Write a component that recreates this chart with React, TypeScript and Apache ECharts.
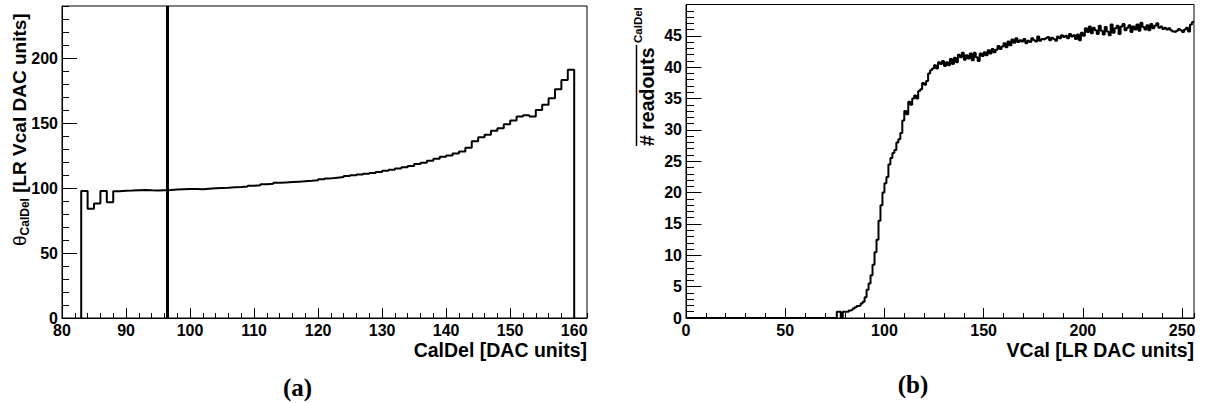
import React, { useEffect, useRef } from "react";
import * as echarts from "echarts";

// ---------- Panel (a): theta_CalDel vs CalDel ----------
const calDelRange = [80, 162];
const thetaRange = [0, 240];
const calDelFirstBin = 83;
// one value per CalDel bin, bins 83..159
const thetaValues = [
  97.7, 84, 88, 97.7, 89, 97.5, 97.8, 98, 98.3, 98.5,
  98.2, 98.0, 98.3, 98.5, 98.8, 99, 99.2, 99.3, 99.0, 99.5,
  99.8, 100, 100.2, 100.5, 100.8, 101.2, 101.8, 102.2, 102.8, 103.3,
  104, 104.3, 104.6, 104.9, 105.2, 105.5, 106, 106.8, 107.4, 107.9,
  108.4, 109.2, 109.8, 110.4, 111, 111.6, 112.4, 113.2, 114, 115,
  116, 117, 118.5, 119.5, 121, 122.5, 124, 125, 126.5, 128,
  131, 136, 139, 141, 144, 146, 149, 152, 155, 156,
  155, 160, 164, 169, 176, 183, 191,
];
const calDelMarker = 96.4;

// ---------- Panel (b): readouts vs VCal ----------
const vcalRange = [0, 256];
const readoutRange = [0, 50];
const vcalFirstBin = 0;
// one value per VCal bin, bins 0..255
const readoutValues = [
  0, 0, 0, 0, 0, 0, 0, 0, 0, 0,
  0, 0, 0, 0, 0, 0, 0, 0, 0, 0,
  0, 0, 0, 0, 0, 0, 0, 0, 0, 0,
  0, 0, 0, 0, 0, 0, 0, 0, 0, 0,
  0, 0, 0, 0, 0, 0, 0, 0, 0, 0,
  0, 0, 0, 0, 0, 0, 0, 0, 0, 0,
  0, 0, 0, 0, 0, 0, 0, 0, 0, 0,
  0, 0, 0, 0, 0, 0, 1.0, 1.0, 0, 1.0,
  1.0, 1.0, 1.2, 1.3, 1.5, 1.7, 1.9, 2.0, 2.3, 2.6,
  3.3, 4.5, 5.5, 6.8, 8.5, 10.5, 12.5, 15.5, 18.0, 20.0,
  21.5, 22.5, 24.5, 25.5, 26.3, 26.8, 28.0, 28.5, 29.5, 31.5,
  33.0, 32.5, 34.5, 34.0, 35.0, 35.5, 35.0, 36.2, 36.5, 37.5,
  37.2, 37.8, 39.0, 39.5, 39.8, 40.3, 39.8, 40.8, 40.5, 41.0,
  40.2, 40.8, 40.3, 41.3, 40.5, 41.5, 40.8, 42.0, 41.6, 42.3,
  41.2, 41.9, 41.4, 42.2, 41.1, 42.3, 41.6, 41.0, 42.2, 41.8,
  42.4, 41.9, 42.7, 42.2, 42.9, 42.4, 42.8, 43.4, 42.9, 43.3,
  43.8, 43.2, 44.1, 43.5, 44.4, 43.9, 44.6, 44.0, 44.3, 44.1,
  44.5, 43.8, 44.2, 44.0, 44.6, 44.3, 44.1, 44.9, 44.2, 44.5,
  44.4, 44.6, 44.8, 44.3, 44.7, 44.5, 44.2, 44.9, 44.6, 45.1,
  44.8, 45.0, 44.6, 45.3, 44.9, 45.1, 44.5, 45.2, 44.3, 45.5,
  45.0, 46.2, 45.6, 46.5, 45.4, 46.3, 45.9, 45.3, 46.6, 45.8,
  45.2, 46.4, 45.7, 45.1, 46.8, 45.5, 46.2, 46.6, 45.3, 46.5,
  46.9, 45.9, 46.3, 46.7, 45.6, 46.5, 46.0, 46.8, 45.8, 47.1,
  46.4, 46.0, 46.7, 45.9, 46.9, 46.2, 46.6, 47.0, 46.3, 46.5,
  46.1, 46.3, 46.0, 46.2, 45.9, 45.7, 45.6, 45.8, 46.1, 45.9,
  45.6, 46.0, 46.3, 45.7, 46.8, 47.2,
];

// tick spacing
const leftXMajor = 10, leftXMinor = 2, leftYMajor = 50, leftYMinor = 10;
const rightXMajor = 50, rightXMinor = 10, rightYMajor = 5, rightYMinor = 1;

const leftXTitle = "CalDel [DAC units]";
const rightXTitle = "VCal [LR DAC units]";
const captions = ["(a)", "(b)"];

const SANS = "'Liberation Sans', Arial, Helvetica, sans-serif";

function histData(first: number, vals: number[], closeToZero: boolean) {
  const d: number[][] = [];
  if (closeToZero) d.push([first, 0]);
  vals.forEach((v, i) => d.push([first + i, v]));
  d.push([first + vals.length, vals[vals.length - 1]]);
  if (closeToZero) d.push([first + vals.length, 0]);
  return d;
}

const labelStyle = {
  show: true,
  color: "#000",
  fontFamily: SANS,
  fontWeight: "bold" as const,
  fontSize: 16,
  showMaxLabel: false,
};

function mainAxis(grid: number, pos: string, range: number[], interval: number, tickLen: number) {
  return {
    type: "value",
    gridIndex: grid,
    position: pos,
    min: range[0],
    max: range[1],
    interval,
    axisLine: { show: true, onZero: false, lineStyle: { color: "#000", width: 1 } },
    axisTick: { show: true, inside: true, length: tickLen, lineStyle: { color: "#000", width: 1 } },
    axisLabel: { ...labelStyle, margin: 4 },
    splitLine: { show: false },
    minorTick: { show: false },
  };
}

function minorAxis(grid: number, pos: string, range: number[], interval: number, tickLen: number) {
  return {
    type: "value",
    gridIndex: grid,
    position: pos,
    min: range[0],
    max: range[1],
    interval,
    axisLine: { show: false, onZero: false },
    axisTick: { show: true, inside: true, length: tickLen, lineStyle: { color: "#000", width: 1 } },
    axisLabel: { show: false },
    splitLine: { show: false },
  };
}

export default function App() {
  const ref = useRef<HTMLDivElement>(null);
  useEffect(() => {
    if (!ref.current) return;
    const chart = echarts.init(ref.current, null, { renderer: "svg" });
    const option: any = {
      animation: false,
      backgroundColor: "#fff",
      grid: [
        { left: 62, top: 6, width: 525, height: 312, show: true, borderColor: "#000", borderWidth: 1, backgroundColor: "transparent" },
        { left: 686, top: 4.5, width: 508, height: 313.5, show: true, borderColor: "#000", borderWidth: 1, backgroundColor: "transparent" },
      ],
      xAxis: [
        mainAxis(0, "bottom", calDelRange, leftXMajor, 10),
        minorAxis(0, "bottom", calDelRange, leftXMinor, 5),
        mainAxis(1, "bottom", vcalRange, rightXMajor, 10),
        minorAxis(1, "bottom", vcalRange, rightXMinor, 5),
      ],
      yAxis: [
        mainAxis(0, "left", thetaRange, leftYMajor, 15),
        minorAxis(0, "left", thetaRange, leftYMinor, 7),
        mainAxis(1, "left", readoutRange, rightYMajor, 15.5),
        minorAxis(1, "left", readoutRange, rightYMinor, 8),
      ],
      series: [
        {
          type: "line",
          xAxisIndex: 0,
          yAxisIndex: 0,
          step: "end",
          symbol: "none",
          showSymbol: false,
          clip: false,
          lineStyle: { color: "#000", width: 2 },
          data: histData(calDelFirstBin, thetaValues, true),
          markLine: {
            silent: true,
            symbol: ["none", "none"],
            label: { show: false },
            lineStyle: { color: "#000", width: 3, type: "solid" },
            data: [{ xAxis: calDelMarker }],
          },
        },
        {
          type: "line",
          xAxisIndex: 2,
          yAxisIndex: 2,
          step: "end",
          symbol: "none",
          showSymbol: false,
          clip: false,
          lineStyle: { color: "#000", width: 2 },
          data: histData(vcalFirstBin, readoutValues, false),
        },
      ],
      graphic: [
        {
          type: "text",
          x: 587,
          y: 349.5,
          style: { text: leftXTitle, fill: "#000", font: `bold 19.5px ${SANS}`, textAlign: "right", textVerticalAlign: "middle" },
        },
        {
          type: "text",
          x: 1194,
          y: 349.5,
          style: { text: rightXTitle, fill: "#000", font: `bold 19.5px ${SANS}`, textAlign: "right", textVerticalAlign: "middle" },
        },
        {
          type: "text",
          x: 19,
          y: 246,
          rotation: Math.PI / 2,
          style: {
            text: "{t|θ}{s|CalDel}{n| [LR Vcal DAC units]}",
            fill: "#000",
            textAlign: "left",
            textVerticalAlign: "middle",
            rich: {
              t: { fontFamily: SANS, fontSize: 19, fontWeight: "normal", lineHeight: 24, fill: "#000" },
              s: { fontFamily: SANS, fontSize: 12, fontWeight: "bold", lineHeight: 14, verticalAlign: "bottom", fill: "#000" },
              n: { fontFamily: SANS, fontSize: 19, fontWeight: "bold", lineHeight: 24, fill: "#000" },
            },
          },
        },
        {
          type: "text",
          x: 647,
          y: 146,
          rotation: Math.PI / 2,
          style: { text: "# readouts", fill: "#000", font: `bold 19.5px ${SANS}`, textAlign: "left", textVerticalAlign: "middle" },
        },
        {
          type: "line",
          shape: { x1: 636.5, y1: 146, x2: 636.5, y2: 45 },
          style: { stroke: "#000", lineWidth: 1.5 },
        },
        {
          type: "text",
          x: 637.5,
          y: 43,
          rotation: Math.PI / 2,
          style: { text: "CalDel", fill: "#000", font: `bold 11.5px ${SANS}`, textAlign: "left", textVerticalAlign: "middle" },
        },
        {
          type: "text",
          x: 297.5,
          y: 387,
          style: { text: captions[0], fill: "#000", font: `bold 25px 'Liberation Serif', 'DejaVu Serif', serif`, textAlign: "center", textVerticalAlign: "middle" },
        },
        {
          type: "text",
          x: 913,
          y: 384,
          style: { text: captions[1], fill: "#000", font: `bold 25px 'Liberation Serif', 'DejaVu Serif', serif`, textAlign: "center", textVerticalAlign: "middle" },
        },
      ],
    };
    chart.setOption(option);
    return () => chart.dispose();
  }, []);
  return (
    <div
      ref={ref}
      style={{ position: "fixed", left: 0, top: 0, width: 1207, height: 403, background: "#fff" }}
    />
  );
}
